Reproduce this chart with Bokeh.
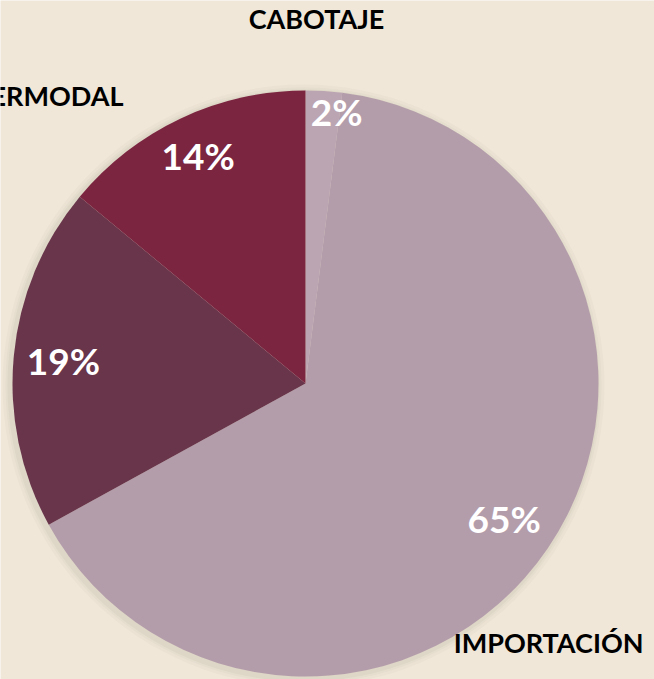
import math
from bokeh.plotting import figure
from bokeh.models import ColumnDataSource, Range1d
from bokeh.core.properties import value
from bokeh.embed import file_html
from bokeh.resources import INLINE

# data, clockwise from 12 o'clock
categories = ["CABOTAJE", "IMPORTACIÓN", "", "INTERMODAL"]
shares = [2, 65, 19, 14]
colors = ["#bca5b2", "#b49dab", "#68354b", "#7b2540"]

W, H = 654, 679
p = figure(width=W, height=H, output_backend="svg", toolbar_location=None,
           x_range=Range1d(0, W), y_range=Range1d(0, H), min_border=0)
p.axis.visible = False
p.grid.visible = False
p.outline_line_color = None
p.background_fill_color = "#f0e7d9"
p.border_fill_color = "#f0e7d9"

cx, cy, R = 305, 296, 293
total = sum(shares)
starts, ends, mids = [], [], []
acc = 0
for s in shares:
    a0 = math.pi / 2 - 2 * math.pi * acc / total
    acc += s
    a1 = math.pi / 2 - 2 * math.pi * acc / total
    starts.append(a0)
    ends.append(a1)
    mids.append((a0 + a1) / 2)

# soft shadow
for k, al in [(8, 0.03), (5, 0.04), (3, 0.05)]:
    p.circle(x=cx - 2, y=cy - 2, radius=R + k, fill_color="#6b5a40",
             fill_alpha=al, line_color=None)

src = ColumnDataSource(dict(start=starts, end=ends, color=colors))
p.wedge(x=cx, y=cy, radius=R, start_angle="start", end_angle="end",
        direction="clock", fill_color="color", line_color=None, source=src)

# percent labels
rfrac = [0.93, 0.82, 0.83, 0.86]
xoff = [14, 0, 0, 0]
lx = [cx + R * f * math.cos(m) + o for f, m, o in zip(rfrac, mids, xoff)]
ly = [cy + R * f * math.sin(m) for f, m in zip(rfrac, mids)]
ltxt = [f"{s}%" for s in shares]
p.text(x=lx, y=ly, text=ltxt, text_color="white", text_font=value("Lato"),
       text_font_style="bold", text_font_size="37px",
       text_align="center", text_baseline="middle")

# category labels (outside)
p.text(x=[316], y=[661], text=[categories[0]], text_color="black",
       text_font=value("Lato"), text_font_style="bold", text_font_size="27px",
       text_align="center", text_baseline="middle")
p.text(x=[123], y=[584], text=[categories[3]], text_color="black",
       text_font=value("Lato"), text_font_style="bold", text_font_size="27px",
       text_align="right", text_baseline="middle")
p.text(x=[643], y=[37], text=[categories[1]], text_color="black",
       text_font=value("Lato"), text_font_style="bold", text_font_size="27px",
       text_align="right", text_baseline="middle")

open("out.html", "w").write(file_html(p, INLINE))
